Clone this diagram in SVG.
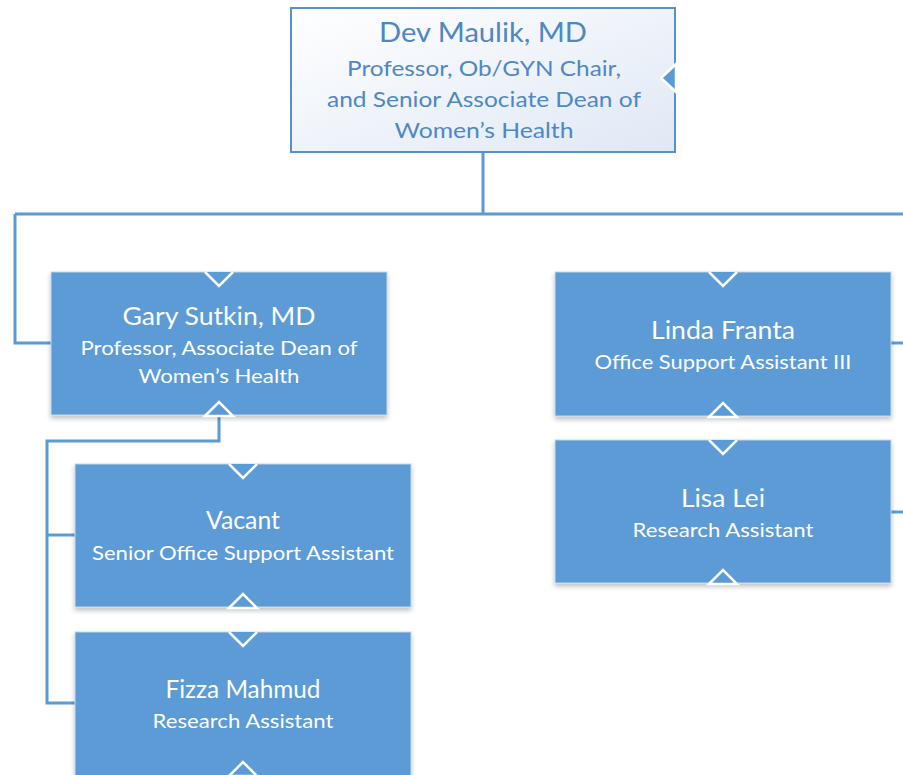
<svg xmlns="http://www.w3.org/2000/svg" width="903" height="775" viewBox="0 0 903 775">
<style>
.box{fill:#5b9bd5;stroke:#c5d7ec;stroke-width:1}
.conn{fill:none;stroke:#5b9bd5;stroke-width:3}
.notch{fill:#5b9bd5;stroke:#ffffff;stroke-width:2.5;stroke-linejoin:miter}
.nm{font-family:Lato,"Liberation Sans",sans-serif;font-size:25px;fill:#ffffff;text-anchor:middle}
.sub{font-family:Lato,"Liberation Sans",sans-serif;font-size:20px;fill:#ffffff;text-anchor:middle}
.tnm{font-family:Lato,"Liberation Sans",sans-serif;font-size:26px;fill:#4f87c2;text-anchor:middle}
.tsub{font-family:Lato,"Liberation Sans",sans-serif;font-size:21.5px;fill:#4f87c2;text-anchor:middle}
</style>
<defs>
<linearGradient id="topg" x1="0" y1="0" x2="1" y2="1">
<stop offset="0" stop-color="#ffffff"/>
<stop offset="1" stop-color="#dfe8f5"/>
</linearGradient>
<filter id="sh" x="-5%" y="-5%" width="110%" height="120%">
<feGaussianBlur in="SourceAlpha" stdDeviation="2.5"/>
<feOffset dx="0" dy="3" result="b"/>
<feComponentTransfer><feFuncA type="linear" slope="0.25"/></feComponentTransfer>
<feMerge><feMergeNode/><feMergeNode in="SourceGraphic"/></feMerge>
</filter>
</defs>
<rect width="903" height="775" fill="#ffffff"/>
<g id="connectors">
<polyline class="conn" points="483,152 483,214"/>
<polyline class="conn" points="15,214 903,214"/>
<polyline class="conn" points="15,214 15,343 51,343"/>
<polyline class="conn" points="891,343 903,343"/>
<polyline class="conn" points="891,512 903,512"/>
<polyline class="conn" points="219,408 219,441 47,441 47,703 75,703"/>
<polyline class="conn" points="47,535 75,535"/>
</g>
<g id="dev">
<rect x="291" y="8" width="384" height="144" fill="url(#topg)" stroke="#5b8fc8" stroke-width="2"/>
<polygon class="notch" points="676,64 661,78 676,92" stroke-width="2"/>
<text class="tnm" x="483" y="42" textLength="208" lengthAdjust="spacingAndGlyphs">Dev Maulik, MD</text>
<text class="tsub" x="484" y="76" textLength="274" lengthAdjust="spacingAndGlyphs">Professor, Ob/GYN Chair,</text>
<text class="tsub" x="484" y="107" textLength="314" lengthAdjust="spacingAndGlyphs">and Senior Associate Dean of</text>
<text class="tsub" x="484" y="138" textLength="179" lengthAdjust="spacingAndGlyphs">Women’s Health</text>
</g>
<g id="gary">
<rect class="box" x="51" y="272" width="336" height="143" filter="url(#sh)"/>
<polyline class="notch" points="205,272 219,286 233,272"/>
<polygon class="notch" points="205,416 219,402 233,416"/>
<text class="nm" x="219" y="325" textLength="193" lengthAdjust="spacingAndGlyphs">Gary Sutkin, MD</text>
<text class="sub" x="219" y="355" textLength="277" lengthAdjust="spacingAndGlyphs">Professor, Associate Dean of</text>
<text class="sub" x="219" y="383" textLength="161" lengthAdjust="spacingAndGlyphs">Women’s Health</text>
</g>
<g id="linda">
<rect class="box" x="555" y="272" width="336" height="144" filter="url(#sh)"/>
<polyline class="notch" points="709,272 723,286 737,272"/>
<polygon class="notch" points="709,417 723,403 737,417"/>
<text class="nm" x="723" y="339" textLength="144" lengthAdjust="spacingAndGlyphs">Linda Franta</text>
<text class="sub" x="723" y="369" textLength="257" lengthAdjust="spacingAndGlyphs">Office Support Assistant III</text>
</g>
<g id="lisa">
<rect class="box" x="555" y="440" width="336" height="143" filter="url(#sh)"/>
<polyline class="notch" points="709,440 723,454 737,440"/>
<polygon class="notch" points="709,584 723,570 737,584"/>
<text class="nm" x="723" y="507" textLength="84" lengthAdjust="spacingAndGlyphs">Lisa Lei</text>
<text class="sub" x="723" y="537" textLength="181" lengthAdjust="spacingAndGlyphs">Research Assistant</text>
</g>
<g id="vacant">
<rect class="box" x="75" y="464" width="336" height="143" filter="url(#sh)"/>
<polyline class="notch" points="229,464 243,478 257,464"/>
<polygon class="notch" points="229,608 243,594 257,608"/>
<text class="nm" x="243" y="529" textLength="74" lengthAdjust="spacingAndGlyphs">Vacant</text>
<text class="sub" x="243" y="560" textLength="302" lengthAdjust="spacingAndGlyphs">Senior Office Support Assistant</text>
</g>
<g id="fizza">
<rect class="box" x="75" y="632" width="336" height="160" filter="url(#sh)"/>
<polyline class="notch" points="229,632 243,646 257,632"/>
<polygon class="notch" points="229,776 243,762 257,776"/>
<text class="nm" x="243" y="698" textLength="155" lengthAdjust="spacingAndGlyphs">Fizza Mahmud</text>
<text class="sub" x="243" y="728" textLength="181" lengthAdjust="spacingAndGlyphs">Research Assistant</text>
</g>
</svg>
